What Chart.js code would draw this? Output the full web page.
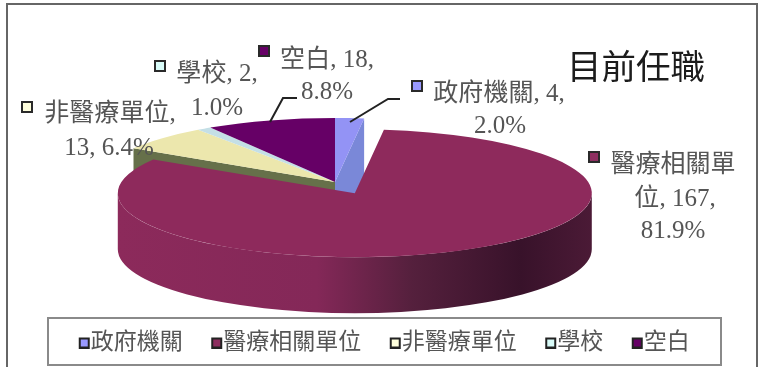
<!DOCTYPE html>
<html>
<head>
<meta charset="utf-8">
<script src="https://cdn.jsdelivr.net/npm/chart.js"></script>
<style>
  html, body { margin: 0; background: #fff; overflow: hidden; width: 768px; height: 367px; }
  #frame { position: absolute; left: 6px; top: 3px; width: 752px; height: 400px; border: 2px solid #666; box-sizing: border-box; }
  canvas { position: absolute; left: 0; top: 0; }
</style>
</head>
<body>
<canvas id="myChart" width="768" height="367"></canvas>
<div id="frame"></div>

<script>
  const chartTitle = '目前任職';
  const categories = ['政府機關', '醫療相關單位', '非醫療單位', '學校', '空白'];
  const counts = [4, 167, 13, 2, 18];
  const percents = ['2.0%', '81.9%', '6.4%', '1.0%', '8.8%'];
  const faceColors = ['#9393f5', '#8e2a5c', '#ece7ad', '#c4dfe6', '#660066'];
  const wallColors = ['#7a88d8', '#8e2a5c', '#66704a', '#9ab', '#40003f'];
  const markerColors = ['#9999ff', '#8e2f60', '#ffffdd', '#d8fbf8', '#660066'];
  const pullOut = [0, 29, 0, 0, 0];

  // how the labels break onto lines
  const labelLines = [
    [`${categories[0]}, ${counts[0]},`, percents[0]],
    [categories[1].slice(0, 5), `${categories[1].slice(5)}, ${counts[1]},`, percents[1]],
    [`${categories[2]},`, `${counts[2]}, ${percents[2]}`],
    [`${categories[3]}, ${counts[3]},`, percents[3]],
    [`${categories[4]}, ${counts[4]},`, percents[4]]
  ];
  const labelBaselines = [[101, 133], [172, 206, 238], [121, 155], [81, 115], [67, 99]];
  const labelCenters = [[499, 500], [673, 675, 673], [110, 109], [217, 217], [327, 327]];
  const markerSpots = [[411, 80], [588, 151], [21, 101], [154, 60], [258, 45]];
  const leaderLines = [
    [[350, 122], [388, 99], [400, 99]],
    [[270, 122], [283, 98], [297, 98]]
  ];

  const pie = { x: 335, y: 182, rx: 237, ry: 64, depth: 56 };
  const pieRadius = 150;
  const serif = '"Liberation Serif", "Noto Sans CJK TC"';

  function drawMarker(ctx, x, y, color) {
    ctx.fillStyle = color;
    ctx.strokeStyle = '#2a2a2a';
    ctx.lineWidth = 2;
    ctx.fillRect(x + 1, y + 1, 10, 10);
    ctx.strokeRect(x + 1, y + 1, 10, 10);
  }

  // legend swatch: box sits in the right half of the tile so it hugs the text
  function legendTile(color) {
    const tile = document.createElement('canvas');
    tile.width = 24;
    tile.height = 12;
    const c = tile.getContext('2d');
    c.fillStyle = color;
    c.strokeStyle = '#222';
    c.lineWidth = 2;
    c.fillRect(13, 2, 9, 9);
    c.strokeRect(13, 2, 9, 9);
    return tile;
  }

  // squashes the round pie into an ellipse and extrudes the side walls
  const tiltPlugin = {
    id: 'tilt',
    beforeDatasetDraw(chart) {
      const ctx = chart.ctx;
      const arcs = chart.getDatasetMeta(0).data;
      const kx = pie.rx / arcs[0].outerRadius;
      const ky = pie.ry / arcs[0].outerRadius;
      const cx = arcs[0].x, cy = arcs[0].y;

      function edgeWall(angle, color) {
        const px = pie.x + Math.cos(angle) * pie.rx;
        const py = pie.y + Math.sin(angle) * pie.ry;
        ctx.fillStyle = color;
        ctx.beginPath();
        ctx.moveTo(pie.x, pie.y);
        ctx.lineTo(px, py);
        ctx.lineTo(px, py + pie.depth);
        ctx.lineTo(pie.x, pie.y + pie.depth);
        ctx.closePath();
        ctx.fill();
      }
      edgeWall(arcs[0].endAngle, wallColors[0]);
      edgeWall(arcs[2].startAngle, wallColors[2]);

      // front rim of the pulled-out slice
      const big = arcs[1];
      const mid = (big.startAngle + big.endAngle) / 2;
      const bx = pie.x + Math.cos(mid) * pullOut[1] * kx;
      const by = pie.y + Math.sin(mid) * pullOut[1] * ky;
      const grad = ctx.createLinearGradient(bx - pie.rx, 0, bx + pie.rx, 0);
      grad.addColorStop(0, '#8c2a5b');
      grad.addColorStop(0.42, '#842858');
      grad.addColorStop(0.62, '#55203d');
      grad.addColorStop(0.85, '#38122a');
      grad.addColorStop(1, '#4b1a36');
      ctx.fillStyle = grad;
      ctx.beginPath();
      ctx.ellipse(bx, by, pie.rx, pie.ry, 0, 0, Math.PI);
      ctx.ellipse(bx, by + pie.depth, pie.rx, pie.ry, 0, Math.PI, 0, true);
      ctx.closePath();
      ctx.fill();

      // top faces, each moved out along its own middle angle
      arcs.forEach((arc, i) => {
        const m = (arc.startAngle + arc.endAngle) / 2;
        ctx.save();
        ctx.translate(pie.x, pie.y);
        ctx.scale(kx, ky);
        ctx.translate(Math.cos(m) * pullOut[i] - cx, Math.sin(m) * pullOut[i] - cy);
        arc.draw(ctx);
        ctx.restore();
      });
      return false;
    },
    afterDraw(chart) {
      const ctx = chart.ctx;
      ctx.save();

      // box around the legend
      ctx.strokeStyle = '#8a8a8a';
      ctx.lineWidth = 2;
      ctx.strokeRect(48, 318, 673, 47);

      ctx.strokeStyle = '#222';
      ctx.lineWidth = 2;
      leaderLines.forEach(line => {
        ctx.beginPath();
        line.forEach((p, i) => i ? ctx.lineTo(p[0], p[1]) : ctx.moveTo(p[0], p[1]));
        ctx.stroke();
      });

      ctx.textAlign = 'center';
      ctx.textBaseline = 'alphabetic';
      ctx.font = '25px ' + serif;
      labelLines.forEach((lines, i) => {
        ctx.fillStyle = '#555';
        lines.forEach((text, j) => ctx.fillText(text, labelCenters[i][j], labelBaselines[i][j]));
        drawMarker(ctx, markerSpots[i][0], markerSpots[i][1], markerColors[i]);
      });

      ctx.textAlign = 'left';
      ctx.font = '34.5px ' + serif;
      ctx.fillStyle = '#1c1c1c';
      ctx.fillText(chartTitle, 567, 79);
      ctx.restore();
    }
  };

  var ctx = document.getElementById('myChart').getContext('2d');
  var myChart = new Chart(ctx, {
    type: 'pie',
    data: {
      labels: categories,
      datasets: [{
        data: counts,
        backgroundColor: faceColors,
        borderWidth: 0,
        clip: false
      }]
    },
    options: {
      responsive: false,
      animation: false,
      radius: pieRadius,
      layout: { padding: { bottom: 3 } },
      plugins: {
        tooltip: { enabled: false },
        legend: {
          position: 'bottom',
          labels: {
            usePointStyle: true,
            pointStyleWidth: 1,
            padding: 28,
            color: '#555',
            font: { size: 23, family: serif },
            generateLabels: () => categories.map((text, i) => ({
              text: text,
              pointStyle: legendTile(markerColors[i]),
              fontColor: '#555',
              datasetIndex: 0,
              index: i
            }))
          }
        }
      }
    },
    plugins: [tiltPlugin]
  });
</script>
</body>
</html>
